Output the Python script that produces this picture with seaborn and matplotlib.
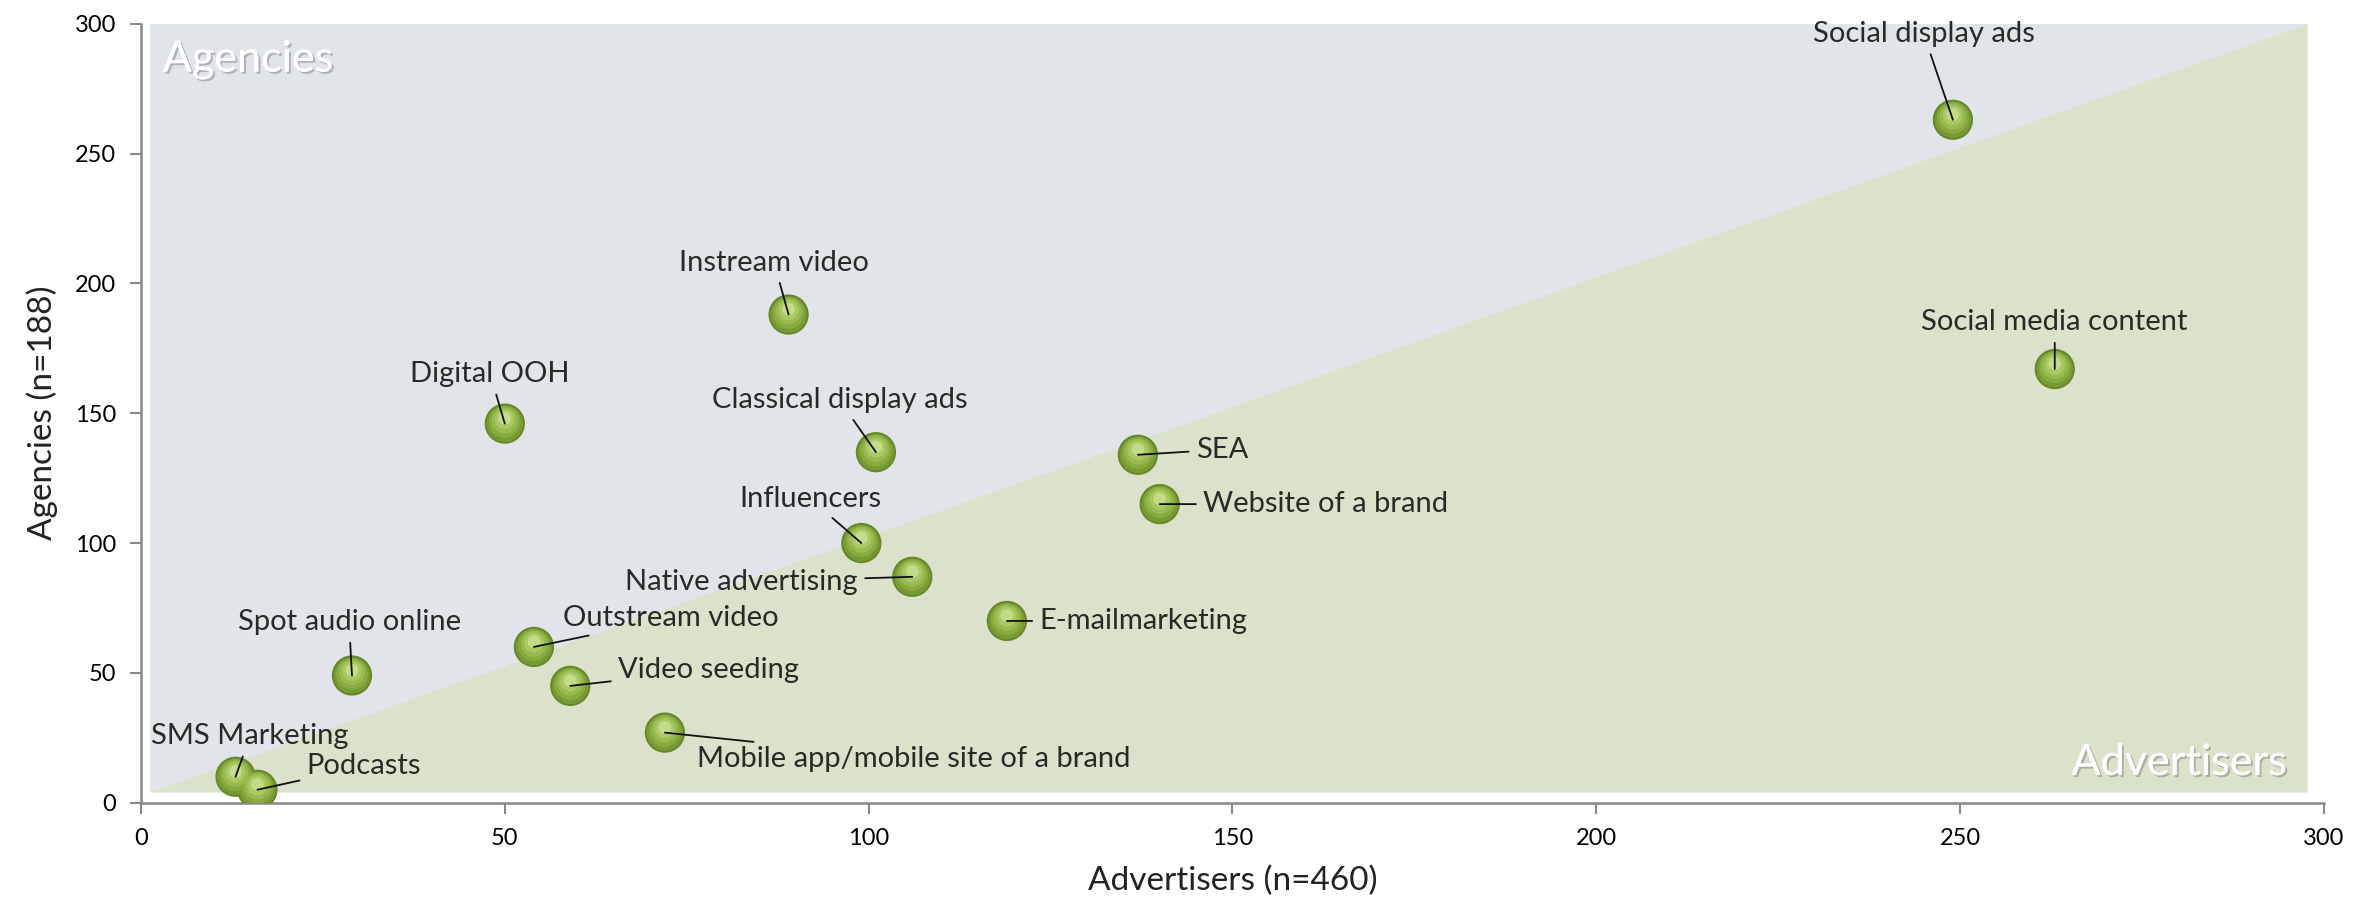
import numpy as np
import pandas as pd
import seaborn as sns
import matplotlib.pyplot as plt
import matplotlib.patheffects as pe
from matplotlib.transforms import offset_copy

# data
channels = ['Social display ads', 'Social media content', 'Instream video', 'Digital OOH',
            'Classical display ads', 'SEA', 'Website of a brand', 'Influencers',
            'Native advertising', 'E-mailmarketing', 'Spot audio online', 'Outstream video',
            'Video seeding', 'Mobile app/mobile site of a brand', 'SMS Marketing', 'Podcasts']
advertisers = [249, 263, 89, 50, 101, 137, 140, 99, 106, 119, 29, 54, 59, 72, 13, 16]
agencies = [263, 167, 188, 146, 135, 134, 115, 100, 87, 70, 49, 60, 45, 27, 10, 5]

# label placement (text anchor in data units, horizontal alignment)
label_pos = [(245, 296, 'center'), (263, 185, 'center'), (87, 208, 'center'), (48, 165, 'center'),
             (96, 155, 'center'), (145, 136, 'left'), (146, 115, 'left'), (92, 117, 'center'),
             (98.5, 85, 'right'), (123.5, 70, 'left'), (28.6, 69.5, 'center'), (58, 71, 'left'),
             (65.6, 51, 'left'), (76.4, 17, 'left'), (15, 25.6, 'center'), (22.8, 14, 'left')]

df = pd.DataFrame({'channel': channels, 'Advertisers': advertisers, 'Agencies': agencies})

sns.set_theme(style='ticks')
plt.rcParams['font.family'] = ['Lato', 'DejaVu Sans']

fig = plt.figure(figsize=(23.69, 9.15), dpi=100)
ax = fig.add_axes([0.0595, 0.1227, 0.9215, 0.8514])

# background regions
ax.fill_between([1.2, 297.7], [4.1, 4.1], [300, 300], color='#e1e5ea', zorder=0, lw=0)
ax.fill_between([1.2, 297.7], [4.1, 4.1], [4.1, 300], color='#dbe2cb', zorder=0.5, lw=0)

shadow = [pe.withSimplePatchShadow(offset=(1.5, -1.5), shadow_rgbFace='#555555', alpha=0.35), pe.Normal()]
ax.text(3, 293.5, 'Agencies', fontsize=31, color='white', ha='left', va='top',
        path_effects=shadow, zorder=1)
ax.text(294.8, 10.7, 'Advertisers', fontsize=31, color='white', ha='right', va='baseline',
        path_effects=shadow, zorder=1)

# spheres
S = 840
sns.scatterplot(data=df, x='Advertisers', y='Agencies', s=S, color='#66862a',
                edgecolor='none', linewidth=0, legend=False, ax=ax, zorder=3)
layers = [(0.82, '#789a34', 0), (0.62, '#88ab40', 1.3), (0.42, '#98ba50', 2.3),
          (0.24, '#aac864', 3.1), (0.1, '#c3dc88', 3.8)]
for frac, col, dy in layers:
    tr = offset_copy(ax.transData, fig=fig, x=0, y=dy, units='points')
    ax.scatter(df['Advertisers'], df['Agencies'], s=S * frac, color=col,
               edgecolor='none', transform=tr, zorder=3.1)

# labels with leader lines
for name, x, y, (tx, ty, ha) in zip(channels, advertisers, agencies, label_pos):
    ax.annotate(name, xy=(x, y), xytext=(tx, ty), ha=ha, va='center',
                fontsize=21, color='#262b26',
                arrowprops=dict(arrowstyle='-', color='#111111', lw=1.3,
                                shrinkA=3, shrinkB=0),
                zorder=5)

ax.set_xlim(0, 300)
ax.set_ylim(0, 300)
ax.set_xticks(range(0, 301, 50))
ax.set_yticks(range(0, 301, 50))
ax.set_xlabel('Advertisers (n=460)', fontsize=24, color='#222222', labelpad=12)
ax.set_ylabel('Agencies (n=188)', fontsize=24, color='#222222', labelpad=12)
ax.tick_params(axis='both', labelsize=17, colors='#888888', labelcolor='black',
               length=8, width=1.5, pad=10)
for side in ['left', 'bottom']:
    ax.spines[side].set_color('#888888')
    ax.spines[side].set_linewidth(1.8)
sns.despine(ax=ax)

fig.savefig('out.png', dpi=100)
